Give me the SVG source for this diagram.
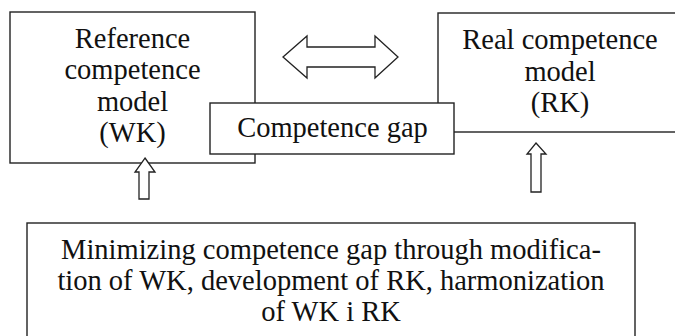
<svg xmlns="http://www.w3.org/2000/svg" width="675" height="336" viewBox="0 0 675 336">
<style>
.box{fill:#fff;stroke:#222;stroke-width:1.4}
.arr{fill:#fff;stroke:#222;stroke-width:1.3;stroke-linejoin:miter}
text{font-family:"Liberation Serif","Times New Roman",serif;font-size:28.5px;fill:#111;text-anchor:middle}
</style>
<rect width="675" height="336" fill="#fff"/>
<g id="wk">
<rect class="box" x="10" y="12" width="245" height="151"/>
<text x="132.5" y="48">Reference</text>
<text x="132.5" y="79">competence</text>
<text x="132.5" y="111">model</text>
<text x="132.5" y="142">(WK)</text>
</g>
<g id="rk">
<rect class="box" x="438" y="13" width="260" height="119"/>
<text x="560" y="49">Real competence</text>
<text x="560" y="81">model</text>
<text x="560" y="112">(RK)</text>
</g>
<g id="gap">
<rect class="box" x="210" y="103" width="244" height="51"/>
<text x="332.5" y="137">Competence gap</text>
</g>
<g id="connectors">
<polygon class="arr" points="283,57 307,36 307,47 375,47 375,36 398,57 375,78 375,67 307,67 307,78"/>
<polygon class="arr" points="145,158 155,172 149,172 149,199 139,199 139,172 135,172"/>
<polygon class="arr" points="536,143 546,154 541,154 541,192 531,192 531,154 527,154"/>
</g>
<g id="minimizing">
<rect class="box" x="27" y="223" width="608" height="130"/>
<text x="331" y="259">Minimizing competence gap through modifica-</text>
<text x="331" y="290">tion of WK, development of RK, harmonization</text>
<text x="331" y="321">of WK i RK</text>
</g>
</svg>
